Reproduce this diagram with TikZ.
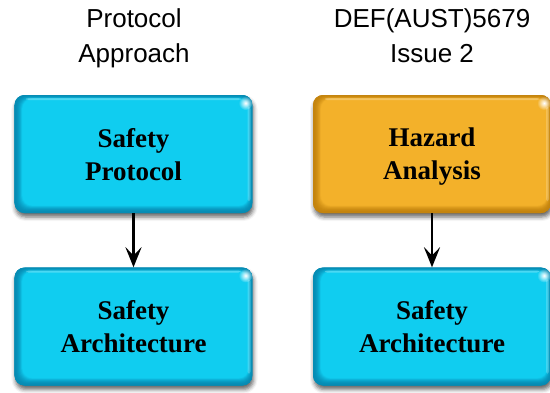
\documentclass[tikz,border=0pt]{standalone}
\usepackage{fontspec}
\setmainfont{Liberation Serif}
\newfontfamily\headfont{Liberation Sans}
\usetikzlibrary{arrows.meta,shadows.blur,fadings,calc}

\definecolor{cyanmain}{RGB}{16,205,240}
\definecolor{cyanedge}{RGB}{6,140,180}
\definecolor{ambermain}{RGB}{243,177,42}
\definecolor{amberedge}{RGB}{196,132,14}

\tikzfading[name=softspot, inner color=transparent!0, outer color=transparent!100]

% bevelled glossy fill: stacked insets from the edge colour to the main colour
\newcommand\bevellayers[2]{%
  \foreach \i in {0,...,20}{%
    \pgfmathtruncatemacro\pct{min(100,\i*\i/3)}%
    \fill[#1!\pct!#2, rounded corners=10bp]
      ($(path picture bounding box.south west)+(\i*0.45bp,\i*0.42bp)$)
      rectangle
      ($(path picture bounding box.north east)+(-\i*0.22bp,-\i*0.22bp)$);
  }%
  \fill[white, opacity=0.25, rounded corners=2bp]
    ($(path picture bounding box.north west)+(12bp,-3bp)$)
    rectangle ($(path picture bounding box.north east)+(-12bp,-5bp)$);
  \fill[white, opacity=0.2, rounded corners=2bp]
    ($(path picture bounding box.north east)+(-5bp,-12bp)$)
    rectangle ($(path picture bounding box.south east)+(-2bp,12bp)$);
  \fill[white, path fading=softspot]
    ($(path picture bounding box.north east)+(-7bp,-8bp)$) circle (7bp);
}

\tikzset{
  glossbox/.style={
    minimum width=238bp, minimum height=118bp,
    rounded corners=10bp, inner sep=0pt, align=center,
    font=\fontsize{27bp}{33bp}\selectfont\bfseries, text depth=0pt,
    blur shadow={shadow xshift=1bp, shadow yshift=-4bp,
      shadow blur radius=4bp, shadow opacity=60}
  },
  cyanbox/.style={glossbox, fill=cyanedge,
    path picture={\bevellayers{cyanmain}{cyanedge}}},
  amberbox/.style={glossbox, fill=amberedge,
    path picture={\bevellayers{ambermain}{amberedge}}},
  heading/.style={font=\headfont\fontsize{26bp}{35bp}\selectfont,
    align=center, inner sep=0pt, text depth=0pt, anchor=south},
  flow/.style={line width=2.8bp,
    -{Stealth[length=20bp, width=16bp, inset=8bp]}}
}

\begin{document}
\begin{tikzpicture}[x=1bp, y=-1bp]
  \useasboundingbox (0,0) rectangle (550,392);

  % column headings
  \node[heading] (hleft) at (134,63) {Protocol\\Approach};
  \node[heading] (hright) at (432,63) {DEF(AUST)5679\\Issue 2};

  % left column
  \node[cyanbox] (protocol) at (133.5,154) {Safety\\Protocol};
  \node[cyanbox] (archleft) at (133.5,326.5) {Safety\\Architecture};

  % right column
  \node[amberbox] (hazard) at (432,154) {Hazard\\Analysis};
  \node[cyanbox] (archright) at (432,326.5) {Safety\\Architecture};

  \draw[flow] (protocol.south) -- (archleft.north);
  \draw[flow] (hazard.south) -- (archright.north);
\end{tikzpicture}
\end{document}
